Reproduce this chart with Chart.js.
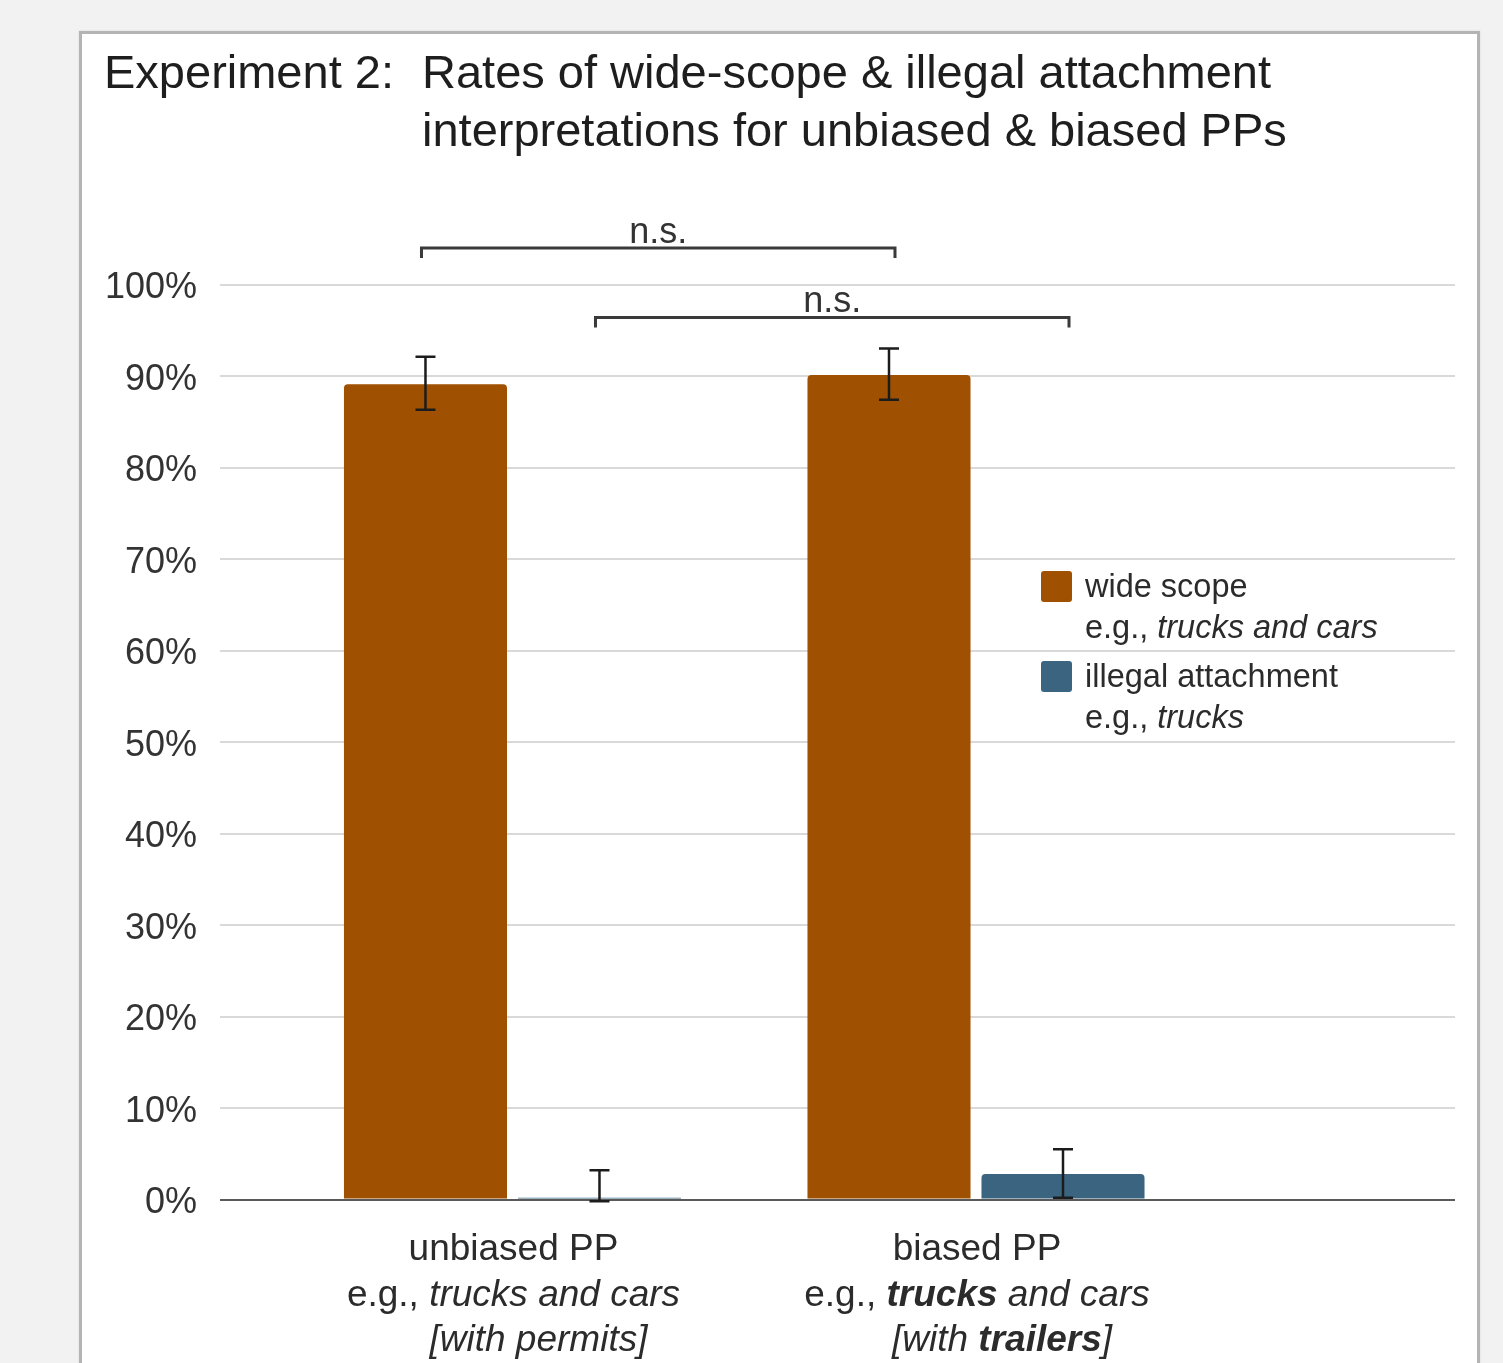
<!DOCTYPE html>
<html>
<head>
<meta charset="utf-8">
<script src="https://cdn.jsdelivr.net/npm/chart.js@4.4.1/dist/chart.umd.min.js"></script>
<style>
  html, body { margin: 0; padding: 0; background: #f2f2f2; width: 1503px; height: 1363px; overflow: hidden; }
  #panel { position: absolute; left: 79px; top: 31px; width: 1395px; height: 1400px; background: #ffffff;
           border: 3px solid #b4b4b4; box-shadow: 0 0 2px #d8d8d8; }
  #c { position: absolute; left: 0; top: 0; }
</style>
</head>
<body>
<div id="panel"></div>
<canvas id="c" width="1503" height="1363"></canvas>
<script>
// ---------- data ----------
const CATEGORIES = ['unbiased PP', 'biased PP'];
const SERIES_NAMES = ['wide scope', 'illegal attachment'];
const WIDE_SCOPE = [89.1, 90.1];
const WIDE_SCOPE_LOW = [86.3, 87.4];
const WIDE_SCOPE_HIGH = [92.1, 93.0];
const ILLEGAL = [0.2, 2.8];
const ILLEGAL_LOW = [-0.2, 0.2];
const ILLEGAL_HIGH = [3.2, 5.5];
const Y_TICK_STEP = 10;
const Y_MIN = 0, Y_MAX = 100;
const COMPARISONS = [
  { series: 0, value: 104.0, label: 'n.s.' },
  { series: 1, value: 96.4, label: 'n.s.' }
];
const TITLE_PREFIX = 'Experiment 2:';
const TITLE_LINES = ['Rates of wide-scope & illegal attachment', 'interpretations for unbiased & biased PPs'];
const LEGEND_NOTES = [
  [{ t: 'e.g., ' }, { t: 'trucks and cars', i: true }],
  [{ t: 'e.g., ' }, { t: 'trucks', i: true }]
];
const X_LABEL_LINES = [
  [
    [{ t: 'unbiased PP' }],
    [{ t: 'e.g., ' }, { t: 'trucks and cars', i: true }],
    [{ t: '[with permits]', i: true }]
  ],
  [
    [{ t: 'biased PP' }],
    [{ t: 'e.g., ' }, { t: 'trucks', i: true, b: true }, { t: ' and cars', i: true }],
    [{ t: '[with ', i: true }, { t: 'trailers', i: true, b: true }, { t: ']', i: true }]
  ]
];

// ---------- styles ----------
const FONT = '"Liberation Sans", Arial, sans-serif';
const COLORS = ['#9f5000', '#3b6480'];
const TEXT = '#2b2b2b';

function fontStr(seg, size) {
  return (seg.i ? 'italic ' : '') + (seg.b ? 'bold ' : '') + size + 'px ' + FONT;
}
function drawSegments(ctx, segs, x, y, size, align) {
  let total = 0;
  segs.forEach(s => { ctx.font = fontStr(s, size); total += ctx.measureText(s.t).width; });
  let cx = align === 'center' ? x - total / 2 : x;
  ctx.textAlign = 'left';
  segs.forEach(s => { ctx.font = fontStr(s, size); ctx.fillText(s.t, cx, y); cx += ctx.measureText(s.t).width; });
}

const errorBars = {
  id: 'errorBars',
  afterDatasetsDraw(chart) {
    const ctx = chart.ctx, ys = chart.scales.y;
    ctx.save();
    ctx.strokeStyle = '#1c1c1c';
    ctx.lineWidth = 2.5;
    chart.data.datasets.forEach((ds, di) => {
      const meta = chart.getDatasetMeta(di);
      meta.data.forEach((bar, i) => {
        const x = bar.x;
        const yl = ys.getPixelForValue(ds.errLow[i]);
        const yh = ys.getPixelForValue(ds.errHigh[i]);
        ctx.beginPath();
        ctx.moveTo(x, yl); ctx.lineTo(x, yh);
        ctx.moveTo(x - 10, yh); ctx.lineTo(x + 10, yh);
        ctx.moveTo(x - 10, yl); ctx.lineTo(x + 10, yl);
        ctx.stroke();
      });
    });
    ctx.restore();
  }
};

const decorations = {
  id: 'decorations',
  afterDraw(chart) {
    const ctx = chart.ctx, ys = chart.scales.y, area = chart.chartArea;
    ctx.save();
    ctx.textBaseline = 'alphabetic';
    // title
    ctx.fillStyle = '#1e1e1e';
    ctx.font = '47px ' + FONT;
    ctx.textAlign = 'left';
    ctx.fillText(TITLE_PREFIX, 104, 88);
    TITLE_LINES.forEach((l, k) => ctx.fillText(l, 422, 88 + k * 58));

    // brackets
    COMPARISONS.forEach(c => {
      const meta = chart.getDatasetMeta(c.series);
      const x1 = meta.data[0].x - 4, x2 = meta.data[meta.data.length - 1].x + 6;
      const yy = ys.getPixelForValue(c.value);
      ctx.strokeStyle = '#3a3a3a';
      ctx.lineWidth = 3;
      ctx.beginPath();
      ctx.moveTo(x1, yy + 10); ctx.lineTo(x1, yy); ctx.lineTo(x2, yy); ctx.lineTo(x2, yy + 10);
      ctx.stroke();
      ctx.fillStyle = '#333';
      ctx.font = '36px ' + FONT;
      ctx.textAlign = 'center';
      ctx.fillText(c.label, (x1 + x2) / 2, yy - 5);
    });

    // legend
    const LX = 1041, LY = 571, SW = 31, GAP = 90;
    chart.data.datasets.forEach((ds, di) => {
      const top = LY + di * GAP;
      ctx.fillStyle = COLORS[di];
      ctx.beginPath();
      ctx.roundRect(LX, top, SW, SW, 3);
      ctx.fill();
      ctx.fillStyle = TEXT;
      drawSegments(ctx, [{ t: SERIES_NAMES[di] }], LX + 44, top + 26, 32.5, 'left');
      drawSegments(ctx, LEGEND_NOTES[di], LX + 44, top + 67, 32.5, 'left');
    });

    // x labels
    ctx.fillStyle = TEXT;
    CATEGORIES.forEach((cat, ci) => {
      const xs = chart.getDatasetMeta(0).data[ci].x;
      const xe = chart.getDatasetMeta(1).data[ci].x;
      const cx = (xs + xe) / 2;
      const lines = X_LABEL_LINES[ci];
      const offs = [60, 106, 151];
      const dx = [1, 1, 26];
      lines.forEach((segs, li) => drawSegments(ctx, segs, cx + dx[li], area.bottom + offs[li], 37, 'center'));
    });
    ctx.restore();
  }
};

const datasets = [
  { label: SERIES_NAMES[0], values: WIDE_SCOPE, low: WIDE_SCOPE_LOW, high: WIDE_SCOPE_HIGH },
  { label: SERIES_NAMES[1], values: ILLEGAL, low: ILLEGAL_LOW, high: ILLEGAL_HIGH }
].map((s, k) => ({
  label: s.label,
  data: CATEGORIES.map((c, i) => ({ x: i, y: s.values[i] })),
  errLow: s.low,
  errHigh: s.high,
  backgroundColor: COLORS[k],
  borderWidth: 0,
  borderRadius: 4,
  borderSkipped: 'start',
  categoryPercentage: 0.7508,
  barPercentage: 0.937
}));

new Chart(document.getElementById('c'), {
  type: 'bar',
  data: { datasets },
  options: {
    responsive: false,
    animation: false,
    devicePixelRatio: 1,
    layout: { padding: { left: 100, right: 48, top: 284.5, bottom: 163.5 } },
    plugins: { legend: { display: false }, title: { display: false }, tooltip: { enabled: false } },
    scales: {
      x: {
        type: 'linear',
        display: false,
        offset: false,
        grid: { offset: false },
        min: -0.631,
        max: 2.0334,
        afterBuildTicks: s => { s.ticks = CATEGORIES.map((c, i) => ({ value: i })); }
      },
      y: {
        min: Y_MIN,
        max: Y_MAX,
        afterFit: s => { s.width = 120; },
        border: { display: false },
        grid: {
          drawTicks: false,
          lineWidth: 2,
          color: c => (c.tick && c.tick.value === 0) ? '#5a5a5a' : '#d9d9d9'
        },
        ticks: {
          stepSize: Y_TICK_STEP,
          padding: 23,
          labelOffset: 4,
          color: '#333',
          font: { family: FONT, size: 36 },
          callback: v => v + '%'
        }
      }
    }
  },
  plugins: [errorBars, decorations]
});
</script>
</body>
</html>
